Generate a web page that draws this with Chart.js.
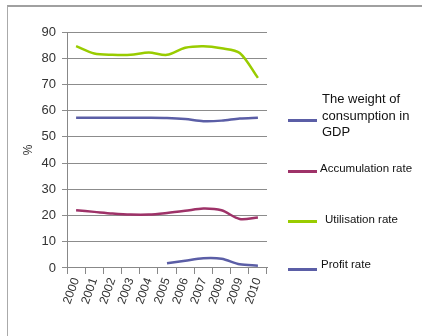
<!DOCTYPE html>
<html>
<head>
<meta charset="utf-8">
<script src="https://cdn.jsdelivr.net/npm/chart.js@4"></script>
<style>
    html, body { margin: 0; padding: 0; background: #fff; }
    #wrap { position: relative; width: 422px; height: 336px; overflow: hidden; }
    #frame { position: absolute; left: 7px; top: 5px; width: 430px; height: 340px;
             border-top: 2px solid #a0a0a0; border-left: 1px solid #aaa; }
    #chart { position: absolute; left: 0; top: 0; }
    .item { position: absolute; font-family: "Liberation Sans", Arial, sans-serif; color: #111; }
    .item .swatch { position: absolute; left: 0; width: 29px; height: 3px; }
    .item .txt { position: absolute; white-space: nowrap; }
</style>
</head>
<body>
<div id="wrap">
    <div id="frame"></div>
    <canvas id="chart" width="422" height="336"></canvas>
    <div id="legend"></div>
</div>
<script>
const years = ["2000", "2001", "2002", "2003", "2004", "2005", "2006", "2007", "2008", "2009", "2010"];
const consumption = [57.3, 57.3, 57.3, 57.3, 57.3, 57.2, 56.8, 56.0, 56.2, 57.0, 57.3];
const accumulation = [22.0, 21.4, 20.8, 20.4, 20.4, 21.0, 21.8, 22.7, 22.0, 18.7, 19.3];
const utilisation = [84.6, 81.8, 81.3, 81.3, 82.2, 81.3, 84.0, 84.6, 83.8, 82.0, 72.5];
const profit = [null, null, null, null, null, 1.8, 2.8, 3.7, 3.5, 1.4, 0.9];
const yTicks = [0, 10, 20, 30, 40, 50, 60, 70, 80, 90];

const seriesNames = ["The weight of consumption in GDP", "Accumulation rate", "Utilisation rate", "Profit rate"];
const colors = ["#5b5ea6", "#9e3268", "#99cc00", "#5b5ea6"];

const canvas = document.getElementById("chart");
const lineStyle = (i, data) => ({
    label: seriesNames[i],
    data: data,
    borderColor: colors[i],
    backgroundColor: colors[i],
    borderWidth: 2.5,
    pointRadius: 0,
    tension: 0.3,
    spanGaps: false,
});

new Chart(canvas.getContext("2d"), {
    type: "line",
    data: {
        labels: years,
        datasets: [
            lineStyle(0, consumption),
            lineStyle(1, accumulation),
            lineStyle(2, utilisation),
            lineStyle(3, profit),
        ],
    },
    options: {
        responsive: false,
        animation: false,
        layout: { padding: { left: 14, right: 155, top: 32, bottom: 28 } },
        plugins: {
            legend: { display: false },
            tooltip: { enabled: false },
        },
        scales: {
            x: {
                offset: true,
                grid: { drawOnChartArea: false, offset: true, tickLength: 6, color: "#888" },
                border: { color: "#888", width: 1 },
                ticks: {
                    autoSkip: false,
                    minRotation: 70,
                    maxRotation: 70,
                    font: { family: "Liberation Sans", size: 12 },
                    color: "#333",
                    padding: 2,
                },
            },
            y: {
                min: 0,
                max: 90,
                afterBuildTicks: (axis) => { axis.ticks = yTicks.map(v => ({ value: v })); },
                afterFit: (axis) => { axis.width = 53; },
                grid: { color: "#8c8c8c", tickLength: 5, lineWidth: 1 },
                border: { color: "#888", width: 1 },
                ticks: {
                    font: { family: "Liberation Sans", size: 13 },
                    color: "#333",
                    padding: 6,
                },
                title: {
                    display: true,
                    text: "%",
                    font: { family: "Liberation Sans", size: 12 },
                    color: "#333",
                    padding: 7,
                },
            },
        },
    },
});

// legend placed on the right like the original sheet
const legendSpots = [
    { top: 119, textLeft: 34, textTop: -28, size: 13, lines: ["The weight of", "consumption in", "GDP"] },
    { top: 170, textLeft: 32, textTop: -9, size: 11.5, lines: [seriesNames[1]] },
    { top: 220, textLeft: 37, textTop: -8, size: 11.5, lines: [seriesNames[2]] },
    { top: 268, textLeft: 33, textTop: -11, size: 11.5, lines: [seriesNames[3]] },
];
const legend = document.getElementById("legend");
legendSpots.forEach((spot, i) => {
    const item = document.createElement("div");
    item.className = "item";
    item.style.left = "288px";
    item.style.top = spot.top + "px";
    const sw = document.createElement("div");
    sw.className = "swatch";
    sw.style.background = colors[i];
    item.appendChild(sw);
    const txt = document.createElement("div");
    txt.className = "txt";
    txt.style.left = spot.textLeft + "px";
    txt.style.top = spot.textTop + "px";
    txt.style.fontSize = spot.size + "px";
    txt.style.lineHeight = (spot.size + 3.5) + "px";
    txt.innerHTML = spot.lines.join("<br>");
    item.appendChild(txt);
    legend.appendChild(item);
});
</script>
</body>
</html>
